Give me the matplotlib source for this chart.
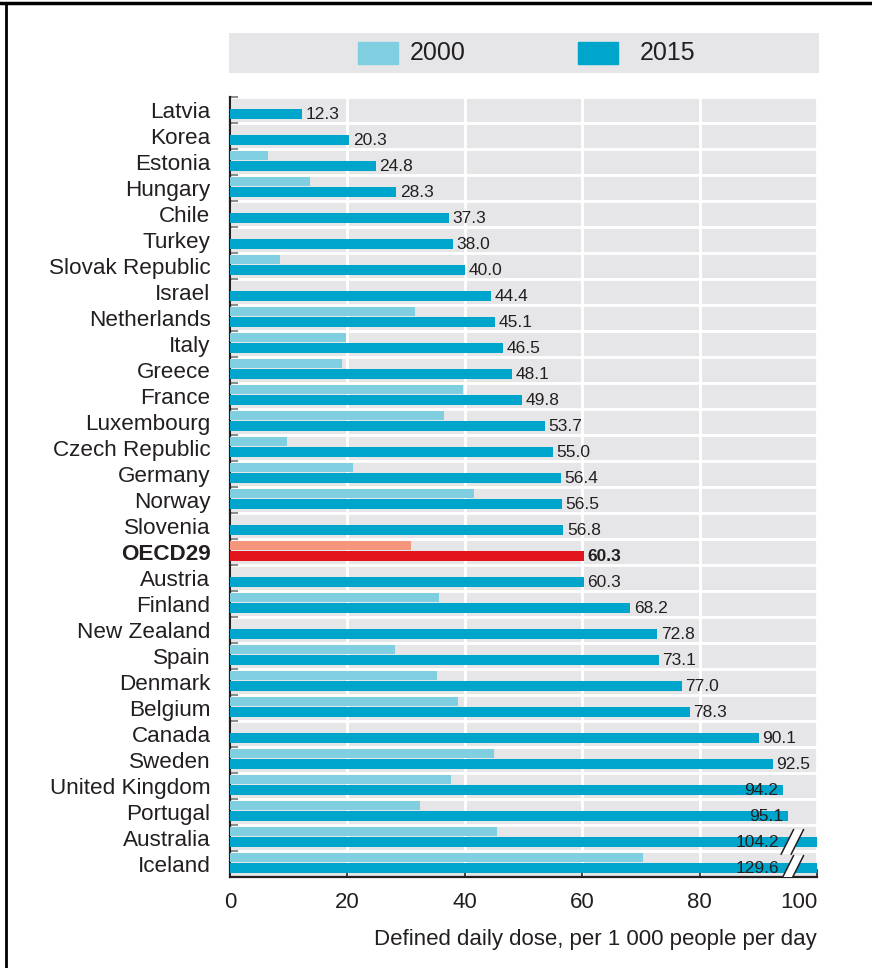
import numpy as np
import matplotlib
matplotlib.use('Agg')
import matplotlib.pyplot as plt
from matplotlib.lines import Line2D
from matplotlib.patches import Rectangle, Polygon

plt.rcParams['font.family'] = ['Liberation Sans', 'DejaVu Sans']

countries = ['Latvia', 'Korea', 'Estonia', 'Hungary', 'Chile', 'Turkey', 'Slovak Republic',
             'Israel', 'Netherlands', 'Italy', 'Greece', 'France', 'Luxembourg',
             'Czech Republic', 'Germany', 'Norway', 'Slovenia', 'OECD29', 'Austria',
             'Finland', 'New Zealand', 'Spain', 'Denmark', 'Belgium', 'Canada', 'Sweden',
             'United Kingdom', 'Portugal', 'Australia', 'Iceland']
v2015 = [12.3, 20.3, 24.8, 28.3, 37.3, 38.0, 40.0, 44.4, 45.1, 46.5, 48.1, 49.8, 53.7,
         55.0, 56.4, 56.5, 56.8, 60.3, 60.3, 68.2, 72.8, 73.1, 77.0, 78.3, 90.1, 92.5,
         94.2, 95.1, 104.2, 129.6]
# 2000 values (nan = no bar shown)
v2000 = [np.nan, np.nan, 6.5, 13.6, np.nan, np.nan, 8.6, np.nan, 31.6, 19.7, 19.1, 39.7,
         36.5, 9.7, 20.9, 41.6, np.nan, 30.9, np.nan, 35.6, np.nan, 28.1, 35.2, 38.8,
         np.nan, 44.9, 37.6, 32.4, 45.5, 70.4]

c2015 = '#00a5cb'
c2000 = '#7fcfe1'
r2015 = '#e2141c'
r2000 = '#f4967b'
bg = '#e6e6e8'
txt = '#231f20'

XMAX = 100
y = np.arange(len(countries))
col15 = [r2015 if c == 'OECD29' else c2015 for c in countries]
col00 = [r2000 if c == 'OECD29' else c2000 for c in countries]

fig = plt.figure(figsize=(8.72, 9.68), dpi=100)
ax = fig.add_axes([230 / 872, 1 - 877 / 968, 587 / 872, 780 / 968])
ax.set_facecolor(bg)

ax.barh(y - 0.252, np.nan_to_num(v2000), height=0.37, color=col00, zorder=3)
ax.barh(y + 0.142, v2015, height=0.39, color=col15, zorder=3)

for i, (c, v) in enumerate(zip(countries, v2015)):
    bold = 'bold' if c == 'OECD29' else 'normal'
    if v > XMAX:
        ax.text(93.5, i + 0.17, f'{v:.1f}', ha='right', va='center', fontsize=12.5,
                color=txt, zorder=5)
    elif v > 93.5:
        ax.text(v - 0.9, i + 0.17, f'{v:.1f}', ha='right', va='center', fontsize=12.5,
                color=txt, zorder=5)
    else:
        ax.text(v + 0.6, i + 0.17, f'{v:.1f}', ha='left', va='center', fontsize=12.5,
                color=txt, fontweight=bold, zorder=5)
    if v > XMAX:
        # axis break marks
        poly = Polygon([[93.9, i + 0.62], [96.0, i - 0.32], [97.7, i - 0.32], [95.6, i + 0.62]],
                       closed=True, facecolor='white', edgecolor='none', zorder=4)
        ax.add_patch(poly)
        ax.plot([93.9, 96.0], [i + 0.62, i - 0.32], color=txt, lw=1.1, zorder=5)
        ax.plot([95.6, 97.7], [i + 0.62, i - 0.32], color=txt, lw=1.1, zorder=5)

ax.set_xlim(0, XMAX)
ax.set_ylim(len(countries) - 0.5, -0.5)

ax.set_yticks(y)
ax.set_yticklabels(countries, fontsize=16.2, color=txt)
for lab in ax.get_yticklabels():
    if lab.get_text() == 'OECD29':
        lab.set_fontweight('bold')
ax.tick_params(axis='y', which='major', length=0, pad=14)
ax.set_yticks(np.arange(-0.5, len(countries), 1), minor=True)
ax.tick_params(axis='y', which='minor', direction='in', length=6, color='#777777', width=1.2)

ax.set_xticks([0, 20, 40, 60, 80, 100])
ax.set_xticklabels(['0', '20', '40', '60', '80', '100'], fontsize=16, color=txt)
ax.get_xticklabels()[-1].set_ha('right')
ax.tick_params(axis='x', direction='in', length=6, width=1.2, color=txt, pad=11)

ax.grid(axis='x', which='major', color='white', lw=2, zorder=1)
ax.grid(axis='y', which='minor', color='white', lw=2, zorder=1)
ax.grid(axis='y', which='major', visible=False)
ax.set_axisbelow(True)

for s in ['top', 'right']:
    ax.spines[s].set_visible(False)
ax.spines['left'].set_color(txt)
ax.spines['left'].set_linewidth(1.6)
ax.spines['bottom'].set_color(txt)
ax.spines['bottom'].set_linewidth(1.6)

fig.text(817 / 872, 1 - 940 / 968, 'Defined daily dose, per 1 000 people per day',
         ha='right', va='center', fontsize=16, color=txt)

# legend band
lax = fig.add_axes([229 / 872, 1 - 73 / 968, 590 / 872, 40 / 968])
lax.set_facecolor(bg)
lax.set_xlim(229, 819)
lax.set_ylim(0, 40)
lax.set_xticks([])
lax.set_yticks([])
for s in lax.spines.values():
    s.set_visible(False)
lax.add_patch(Rectangle((358, 9), 40, 22, color=c2000))
lax.add_patch(Rectangle((578, 9), 40, 22, color=c2015))
lax.text(410, 20, '2000', ha='left', va='center', fontsize=18, color=txt)
lax.text(640, 20, '2015', ha='left', va='center', fontsize=18, color=txt)

# frame lines at top and left
fig.add_artist(Line2D([0, 1], [1 - 3 / 968, 1 - 3 / 968], color='black', lw=2.5))
fig.add_artist(Line2D([6 / 872, 6 / 872], [0, 1 - 3 / 968], color='black', lw=2))

fig.savefig('out.png', dpi=100)
